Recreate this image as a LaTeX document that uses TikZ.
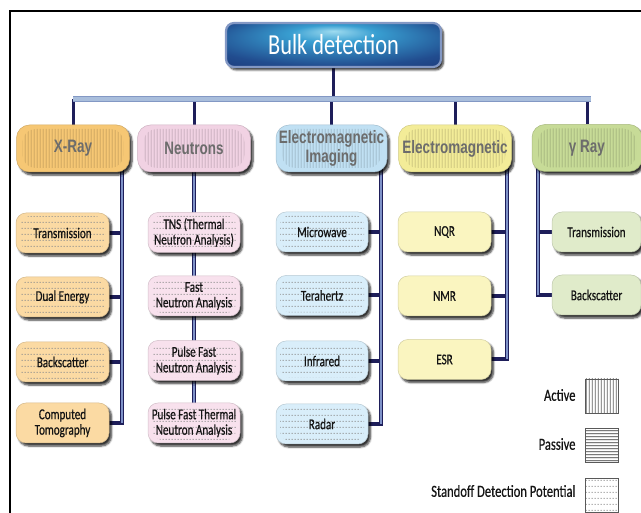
\documentclass[tikz,border=0pt]{standalone}
\usepackage{fontspec}
\setmainfont{Carlito}
\newfontfamily\labelfont[FakeStretch=0.74,FakeBold=0.5]{Carlito}
\newfontfamily\titlefont[FakeStretch=0.77]{Carlito}
\newfontfamily\headfont[FakeStretch=0.75]{Liberation Sans}
\usetikzlibrary{shadows.blur,patterns.meta,calc}

% palette
\definecolor{navy}{HTML}{1E1E5A}
\definecolor{barblue}{HTML}{A9BEDC}
\definecolor{baredge}{HTML}{8398C4}
\definecolor{colblue}{HTML}{7F92C8}
\definecolor{headgray}{HTML}{6C6C6C}
\definecolor{subtext}{HTML}{141414}
\definecolor{dotgray}{HTML}{8C8C8C}
\definecolor{xrayA}{HTML}{F6C774}
\definecolor{xrayB}{HTML}{FBDAA3}
\definecolor{neutA}{HTML}{F1D2E3}
\definecolor{neutB}{HTML}{F8E1ED}
\definecolor{emiA}{HTML}{C0E0F3}
\definecolor{emiB}{HTML}{D9EEFA}
\definecolor{emA}{HTML}{F3EC98}
\definecolor{emB}{HTML}{FAF5C0}
\definecolor{gamA}{HTML}{C7DB97}
\definecolor{gamB}{HTML}{E0EBCA}

% glow for the title box
\pgfdeclareradialshading{bulkglow}{\pgfpoint{0bp}{16bp}}{%
  rgb(0bp)=(0.62,0.86,0.94);
  rgb(10bp)=(0.22,0.62,0.82);
  rgb(30bp)=(0.13,0.30,0.56);
  rgb(50bp)=(0.10,0.16,0.40)}

% fill textures
\tikzdeclarepattern{
  name=vlines, type=uncolored,
  bounding box={(0pt,0pt) and (3pt,3pt)},
  tile size={(3pt,3pt)},
  code={\draw[line width=0.9pt] (1.5pt,-1pt) -- (1.5pt,4pt);}
}
\tikzdeclarepattern{
  name=hlines, type=uncolored,
  bounding box={(0pt,0pt) and (3pt,3pt)},
  tile size={(3pt,3pt)},
  code={\draw[line width=0.9pt] (-1pt,1.5pt) -- (4pt,1.5pt);}
}
\tikzdeclarepattern{
  name=dotgrid, type=uncolored,
  bounding box={(0pt,0pt) and (3pt,5.5pt)},
  tile size={(3pt,5.5pt)},
  code={\fill (0.7pt,2.2pt) rectangle (2pt,3.4pt);}
}

\tikzset{
  softshadow/.style={blur shadow={shadow xshift=2.5pt, shadow yshift=-3pt,
      shadow opacity=80, shadow blur steps=6}},
  vtexture/.style={path picture={\fill[pattern=vlines, pattern color=#1]
      ([shift={(6pt,4pt)}]path picture bounding box.south west) rectangle
      ([shift={(-6pt,-4pt)}]path picture bounding box.north east);}},
  dtexture/.style={path picture={\fill[pattern=dotgrid, pattern color=dotgray]
      ([shift={(4pt,3pt)}]path picture bounding box.south west) rectangle
      ([shift={(-4pt,-3pt)}]path picture bounding box.north east);}},
  bulkbox/.style={rounded corners=8pt, shading=bulkglow, draw=baredge,
      line width=2.2pt, minimum width=215pt, minimum height=44pt,
      text=white, font=\titlefont\fontsize{29}{29}\selectfont, softshadow},
  topbox/.style={rounded corners=13pt, fill=#1, draw=#1!85!black,
      line width=0.5pt, minimum width=113pt, minimum height=47pt,
      inner sep=0pt, align=center, text=headgray,
      font=\headfont\bfseries\fontsize{18}{19}\selectfont,
      softshadow, vtexture=#1!70!black},
  subbox/.style={rounded corners=10pt, fill=#1, draw=#1!85!black,
      line width=0.5pt, minimum width=93pt, minimum height=40pt,
      inner sep=0pt, align=center, text=subtext,
      font=\labelfont\fontsize{15}{15.5}\selectfont, softshadow},
  dotbox/.style={subbox=#1, dtexture},
  drop/.style={draw=navy, line width=3pt},
  barline/.style={draw=baredge, line width=5.5pt,
      postaction={draw=barblue, line width=3.6pt}},
  colline/.style={draw=navy, line width=3.4pt,
      postaction={draw=colblue, line width=1.5pt}},
  branch/.style={draw=navy, line width=4pt},
  legtext/.style={anchor=east, text=subtext,
      font=\labelfont\fontsize{17}{17}\selectfont},
  legbox/.style={draw=gray!70!black, line width=0.7pt, fill=white,
      minimum width=33pt, minimum height=34pt, inner sep=0pt}
}

\pgfdeclarelayer{bg}
\pgfsetlayers{bg,main}

\begin{document}
\begin{tikzpicture}[x=1pt, y=-1pt]
\useasboundingbox (0,0) rectangle (641,513);

% frame
\draw[line width=2pt] (10,513) -- (10,11) -- (641,11);

% title
\node[bulkbox] (bulk) at (333.5,45) {Bulk detection};

% categories
\node[topbox=xrayA] (xray)  at (73,148.5)  {X-Ray};
\node[topbox=neutA] (neut)  at (194,148.5) {Neutrons};
\node[topbox=emiA, minimum width=111pt] (emimg) at (331.5,148.5)
     {Electromagnetic\\Imaging};
\node[topbox=emA]   (emag)  at (455,148.5) {Electromagnetic};
\node[topbox=gamA, minimum width=110pt] (gamma) at (587,148) {γ Ray};

% X-ray methods
\node[dotbox=xrayB] (xtr)  at (62.5,233) {Transmission};
\node[dotbox=xrayB] (xde)  at (62.5,297) {Dual Energy};
\node[dotbox=xrayB] (xbs)  at (62.5,362) {Backscatter};
\node[subbox=xrayB] (xct)  at (62.5,423) {Computed\\Tomography};

% neutron methods
\node[dotbox=neutB, minimum width=92pt] (ntns) at (194,232.5) {TNS (Thermal\\Neutron Analysis)};
\node[dotbox=neutB, minimum width=92pt] (nfna) at (194,296)   {Fast\\Neutron Analysis};
\node[dotbox=neutB, minimum width=92pt] (npfn) at (194,360.5) {Pulse Fast\\Neutron Analysis};
\node[dotbox=neutB, minimum width=92pt] (npft) at (194,423)   {Pulse Fast Thermal\\Neutron Analysis};

% electromagnetic imaging methods
\node[dotbox=emiB, minimum width=92pt] (imw) at (322,232)   {Microwave};
\node[dotbox=emiB, minimum width=92pt] (ith) at (322,295.5) {Terahertz};
\node[dotbox=emiB, minimum width=92pt] (iir) at (322,361)   {Infrared};
\node[dotbox=emiB, minimum width=92pt] (ird) at (322,424)   {Radar};

% electromagnetic methods
\node[subbox=emB] (enqr) at (444.5,232)   {NQR};
\node[subbox=emB] (enmr) at (444.5,296)   {NMR};
\node[subbox=emB] (eesr) at (444.5,359.5) {ESR};

% gamma-ray methods
\node[subbox=gamB, minimum width=89pt] (gtr) at (596.5,232) {Transmission};
\node[subbox=gamB, minimum width=89pt] (gbs) at (596.5,295) {Backscatter};

% legend
\node[legtext] (lact) at (579,395)   {Active};
\node[legtext] (lpas) at (579,444)   {Passive};
\node[legtext] (lsdp) at (579,491)   {Standoff Detection Potential};
\node[legbox, pattern=vlines, pattern color=gray!75!black] (kact) at (602,396) {};
\node[legbox, pattern=hlines, pattern color=gray!40!black] (kpas) at (602,445.5) {};
\node[legbox, pattern=dotgrid, pattern color=dotgray] (ksdp) at (602,495.5) {};

% column rails
\coordinate (barL) at (73,99);
\coordinate (barR) at (591,99);
\coordinate (xcol) at (122,168);
\coordinate (icol) at (381,168);
\coordinate (ecol) at (507,168);
\coordinate (gcol) at (538,168);

\begin{pgfonlayer}{bg}
  % tree trunk
  \draw[drop] (bulk.south) -- (bulk.south |- barL);
  \draw[drop] (xray.north)  -- (xray.north |- barL);
  \draw[drop] (neut.north)  -- (neut.north |- barL);
  \draw[drop] (emimg.north) -- (emimg.north |- barL);
  \draw[drop] (emag.north)  -- (emag.north |- barL);
  \draw[drop] (gamma.north) -- (gamma.north |- barL);
  \draw[barline] (barL) -- (barR);

  % X-ray branches
  \draw[branch] (xtr.east) -- (xtr.east -| xcol);
  \draw[branch] (xde.east) -- (xde.east -| xcol);
  \draw[branch] (xbs.east) -- (xbs.east -| xcol);
  \draw[branch] (xct.east) -- ([xshift=1.7pt]xct.east -| xcol);
  \draw[colline] (xcol) -- (xcol |- xct.east);

  % neutron chain
  \draw[colline] (neut) -- (npft);

  % electromagnetic imaging branches
  \draw[branch] (imw.east) -- (imw.east -| icol);
  \draw[branch] (ith.east) -- (ith.east -| icol);
  \draw[branch] (iir.east) -- (iir.east -| icol);
  \draw[branch] (ird.east) -- ([xshift=1.7pt]ird.east -| icol);
  \draw[colline] (icol) -- (icol |- ird.east);

  % electromagnetic branches
  \draw[branch] (enqr.east) -- (enqr.east -| ecol);
  \draw[branch] (enmr.east) -- (enmr.east -| ecol);
  \draw[branch] (eesr.east) -- ([xshift=1.7pt]eesr.east -| ecol);
  \draw[colline] (ecol) -- (ecol |- eesr.east);

  % gamma-ray branches
  \draw[branch] (gtr.west) -- (gtr.west -| gcol);
  \draw[branch] (gbs.west) -- ([xshift=-1.7pt]gbs.west -| gcol);
  \draw[colline] (gcol) -- (gcol |- gbs.west);
\end{pgfonlayer}
\end{tikzpicture}
\end{document}
